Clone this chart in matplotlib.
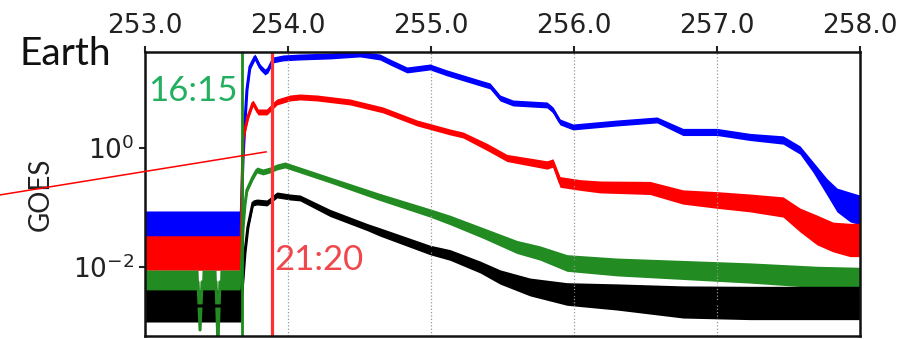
import numpy as np
import matplotlib
matplotlib.use("Agg")
import matplotlib.pyplot as plt
from matplotlib.lines import Line2D

# GOES channels as log10(flux) with a noise half-width (decades)
blue_t = [253.000, 253.671, 253.685, 253.699, 253.713, 253.734, 253.769, 253.804, 253.839,
          253.860, 253.895, 253.965, 254.084, 254.294, 254.503, 254.643, 254.713, 254.832,
          254.993, 255.112, 255.343, 255.413, 255.483, 255.573, 255.811, 255.853, 255.902,
          255.993, 256.301, 256.580, 256.762, 257.000, 257.231, 257.462, 257.580, 257.671,
          257.769, 257.839, 257.930, 258.000]
blue_log = [-1.294, -1.294, -0.202, 0.420, 0.975, 1.361, 1.529, 1.361, 1.277,
            1.311, 1.479, 1.513, 1.529, 1.546, 1.580, 1.529, 1.445, 1.311,
            1.361, 1.261, 1.092, 1.042, 0.840, 0.756, 0.723, 0.639, 0.437,
            0.353, 0.420, 0.471, 0.269, 0.269, 0.185, 0.134, -0.034, -0.319,
            -0.655, -0.874, -0.992, -1.042]
blue_spread = [0.235, 0.235, 0.05, 0.05, 0.05, 0.05, 0.05, 0.05, 0.05,
               0.05, 0.05, 0.05, 0.05, 0.05, 0.05, 0.05, 0.05, 0.05,
               0.05, 0.05, 0.05, 0.05, 0.05, 0.05, 0.05, 0.05, 0.05,
               0.05, 0.05, 0.05, 0.06, 0.06, 0.06, 0.07, 0.07, 0.09,
               0.14, 0.20, 0.25, 0.25]

red_t = [253.000, 253.671, 253.685, 253.699, 253.720, 253.755, 253.790, 253.853, 253.923,
         254.014, 254.084, 254.203, 254.434, 254.664, 254.902, 255.133, 255.224, 255.392,
         255.531, 255.811, 255.853, 255.902, 256.042, 256.182, 256.531, 256.762, 257.000,
         257.231, 257.462, 257.580, 257.699, 257.811, 257.930, 258.000]
red_log = [-1.765, -1.765, 0.134, 0.303, 0.521, 0.756, 0.605, 0.605, 0.773,
           0.840, 0.857, 0.840, 0.773, 0.639, 0.420, 0.269, 0.218, 0.017,
           -0.168, -0.286, -0.252, -0.571, -0.622, -0.655, -0.672, -0.824, -0.874,
           -0.924, -0.992, -1.210, -1.378, -1.496, -1.546, -1.546]
red_spread = [0.29, 0.29, 0.05, 0.05, 0.05, 0.05, 0.05, 0.05, 0.05,
              0.05, 0.05, 0.05, 0.05, 0.05, 0.05, 0.05, 0.05, 0.06,
              0.06, 0.07, 0.07, 0.09, 0.09, 0.10, 0.11, 0.12, 0.14,
              0.15, 0.17, 0.20, 0.25, 0.25, 0.28, 0.28]

green_t = [253.000, 253.371, 253.385, 253.399, 253.497, 253.510, 253.524, 253.671, 253.685,
           253.699, 253.713, 253.755, 253.783, 253.825, 253.874, 253.923, 253.979, 254.084,
           254.294, 254.643, 254.993, 255.133, 255.364, 255.601, 255.762, 255.951, 256.301,
           256.762, 257.231, 257.699, 258.000]
green_log = [-2.252, -2.252, -3.059, -2.252, -2.252, -3.300, -2.252, -2.252, -1.378,
             -0.958, -0.706, -0.487, -0.370, -0.403, -0.370, -0.319, -0.286, -0.370,
             -0.538, -0.824, -1.092, -1.210, -1.429, -1.664, -1.765, -1.933, -2.000,
             -2.050, -2.101, -2.168, -2.185]
green_spread = [0.20, 0.20, 0.02, 0.20, 0.20, 0.02, 0.20, 0.20, 0.05,
                0.05, 0.05, 0.05, 0.05, 0.05, 0.05, 0.05, 0.05, 0.05,
                0.05, 0.06, 0.07, 0.08, 0.09, 0.11, 0.12, 0.14, 0.15,
                0.16, 0.17, 0.18, 0.18]

black_t = [253.000, 253.671, 253.699, 253.720, 253.755, 253.783, 253.853, 253.923, 254.014,
           254.084, 254.294, 254.552, 254.643, 254.993, 255.133, 255.343, 255.483, 255.692,
           255.951, 256.301, 256.762, 257.231, 257.699, 258.000]
black_log = [-2.655, -2.655, -1.765, -1.328, -0.924, -0.908, -0.924, -0.790, -0.824,
             -0.840, -1.092, -1.328, -1.412, -1.714, -1.798, -2.000, -2.168, -2.336,
             -2.454, -2.504, -2.588, -2.605, -2.605, -2.605]
black_spread = [0.27, 0.27, 0.05, 0.05, 0.05, 0.05, 0.05, 0.05, 0.05,
                0.05, 0.06, 0.06, 0.07, 0.08, 0.09, 0.10, 0.12, 0.15,
                0.19, 0.22, 0.27, 0.28, 0.28, 0.28]

onset_green = 253 + 16.25 / 24    # 16:15
onset_red = 253 + (21 + 20 / 60) / 24    # 21:20

x_ticks = [253.0, 254.0, 255.0, 256.0, 257.0, 258.0]

fig = plt.figure(figsize=(9.05, 3.39), dpi=100)
ax = fig.add_axes([0.1602, 0.00885, 0.7901, 0.8378])

series = [(blue_t, blue_log, blue_spread, '#0000ff'),
          (red_t, red_log, red_spread, '#ff0000'),
          (green_t, green_log, green_spread, '#228b22'),
          (black_t, black_log, black_spread, '#000000')]
for t, lg, sp, col in series:
    lg = np.array(lg)
    sp = np.array(sp)
    ax.fill_between(t, 10 ** (lg - sp), 10 ** (lg + sp), color=col, lw=0)
    ax.plot(t, 10 ** lg, color=col, lw=2.2)

ax.axvline(onset_green, color='#1a8c1a', lw=2.0)
ax.axvline(onset_red, color='#ff3030', lw=2.3)

ax.set_yscale('log')
ax.set_xlim(253.0, 258.0)
ax.set_ylim(10 ** -3.16, 10 ** 1.613)
ax.set_yticks([1e-2, 1e0])
ax.minorticks_off()
ax.xaxis.tick_top()
ax.set_xticks(x_ticks)
ax.set_xticklabels(['%.1f' % v for v in x_ticks])
ax.tick_params(axis='both', labelsize=19, width=1.5, length=4, color='#222222',
               labelcolor='#222222')
ax.tick_params(axis='x', pad=5)
ax.grid(True, axis='x', color='#999999', linestyle=':', lw=0.9)
for s in ax.spines.values():
    s.set_linewidth(1.8)
    s.set_color('#111111')

ax.set_ylabel('GOES', family='Lato', fontsize=20, color='#222222', labelpad=14)

ax.text(253.02, 10 ** 0.958, '16:15', family='Lato', fontsize=25, color='#22b060',
        va='center', ha='left')
ax.text(253.905, 10 ** -1.882, '21:20', family='Lato', fontsize=25, color='#f0464c',
        va='center', ha='left')
fig.text(0.022, 0.808, 'Earth', family='Lato', fontsize=28, color='#111111',
         va='baseline', ha='left')

fig.add_artist(Line2D([0.0, 0.294], [0.425, 0.552], color='#ff0000', lw=1.1,
                      transform=fig.transFigure))

fig.savefig('out.png', dpi=100)
